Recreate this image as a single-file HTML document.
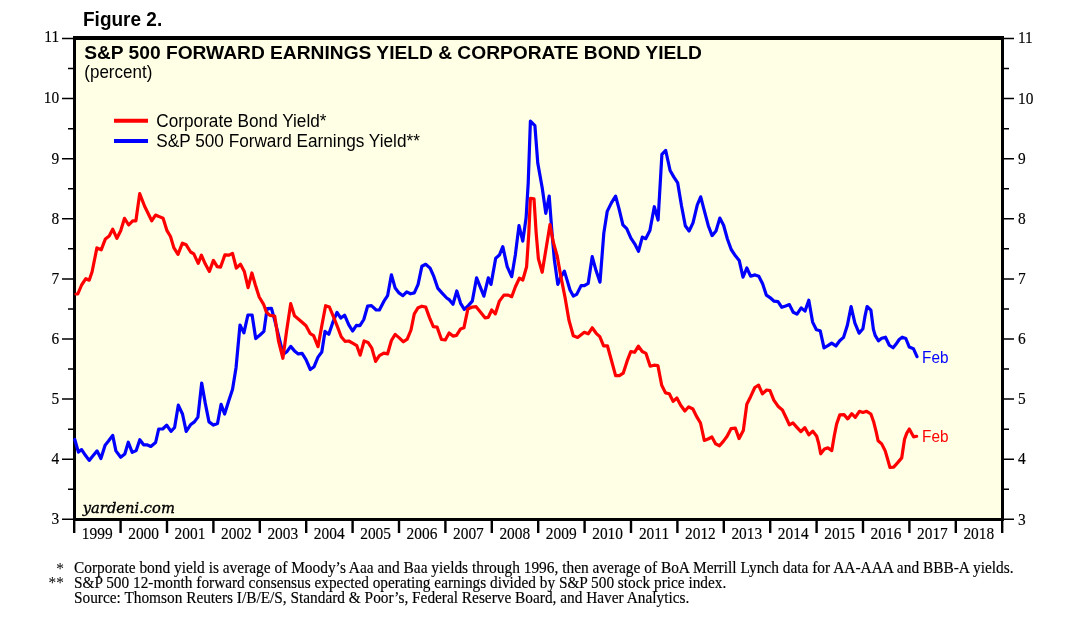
<!DOCTYPE html>
<html><head><meta charset="utf-8"><title>Figure 2</title><style>html,body{margin:0;padding:0;background:#fff;width:1079px;height:630px;overflow:hidden}svg{display:block}</style></head><body>
<svg width="1079" height="630" viewBox="0 0 1079 630">
<rect x="0" y="0" width="1079" height="630" fill="#ffffff"/>
<rect x="73" y="36" width="931" height="485" fill="#ffffe6"/>
<path d="M62 519.30H73M1004 519.30H1014M68 489.25H73M1004 489.25H1009M62 459.20H73M1004 459.20H1014M68 429.15H73M1004 429.15H1009M62 399.10H73M1004 399.10H1014M68 369.05H73M1004 369.05H1009M62 339.00H73M1004 339.00H1014M68 308.95H73M1004 308.95H1009M62 278.90H73M1004 278.90H1014M68 248.85H73M1004 248.85H1009M62 218.80H73M1004 218.80H1014M68 188.75H73M1004 188.75H1009M62 158.70H73M1004 158.70H1014M68 128.65H73M1004 128.65H1009M62 98.60H73M1004 98.60H1014M68 68.55H73M1004 68.55H1009M62 38.50H73M1004 38.50H1014" stroke="#000" stroke-width="1.5" fill="none"/>
<path d="M74.20 520V533M120.60 520V533M167.00 520V533M213.40 520V533M259.80 520V533M306.20 520V533M352.60 520V533M399.00 520V533M445.40 520V533M491.80 520V533M538.20 520V533M584.60 520V533M631.00 520V533M677.40 520V533M723.80 520V533M770.20 520V533M816.60 520V533M863.00 520V533M909.40 520V533M955.80 520V533M1002.20 520V533" stroke="#000" stroke-width="2.4" fill="none"/>
<path d="M73 36H1004V521.1H73Z M76 40V517.9H1001V40Z" fill="#000" fill-rule="evenodd"/>
<g font-family="'Liberation Serif', 'Times New Roman', serif" fill="#000" stroke="#000" stroke-width="0.15"><text transform="translate(59.20 524.10) scale(1.0 1.06)" font-size="15.4" text-anchor="end">3</text><text transform="translate(1018.00 524.50) scale(1.0 1.06)" font-size="15.4">3</text><text transform="translate(59.20 464.00) scale(1.0 1.06)" font-size="15.4" text-anchor="end">4</text><text transform="translate(1018.00 464.40) scale(1.0 1.06)" font-size="15.4">4</text><text transform="translate(59.20 403.90) scale(1.0 1.06)" font-size="15.4" text-anchor="end">5</text><text transform="translate(1018.00 404.30) scale(1.0 1.06)" font-size="15.4">5</text><text transform="translate(59.20 343.80) scale(1.0 1.06)" font-size="15.4" text-anchor="end">6</text><text transform="translate(1018.00 344.20) scale(1.0 1.06)" font-size="15.4">6</text><text transform="translate(59.20 283.70) scale(1.0 1.06)" font-size="15.4" text-anchor="end">7</text><text transform="translate(1018.00 284.10) scale(1.0 1.06)" font-size="15.4">7</text><text transform="translate(59.20 223.60) scale(1.0 1.06)" font-size="15.4" text-anchor="end">8</text><text transform="translate(1018.00 224.00) scale(1.0 1.06)" font-size="15.4">8</text><text transform="translate(59.20 163.50) scale(1.0 1.06)" font-size="15.4" text-anchor="end">9</text><text transform="translate(1018.00 163.90) scale(1.0 1.06)" font-size="15.4">9</text><text transform="translate(59.20 103.40) scale(1.0 1.06)" font-size="15.4" text-anchor="end">10</text><text transform="translate(1018.00 103.80) scale(1.0 1.06)" font-size="15.4">10</text><text transform="translate(59.20 42.20) scale(1.0 1.06)" font-size="15.4" text-anchor="end">11</text><text transform="translate(1018.00 42.60) scale(1.0 1.06)" font-size="15.4">11</text><text transform="translate(97.20 539.30) scale(1.0 1.06)" font-size="15.4" text-anchor="middle">1999</text><text transform="translate(143.60 539.30) scale(1.0 1.06)" font-size="15.4" text-anchor="middle">2000</text><text transform="translate(190.00 539.30) scale(1.0 1.06)" font-size="15.4" text-anchor="middle">2001</text><text transform="translate(236.40 539.30) scale(1.0 1.06)" font-size="15.4" text-anchor="middle">2002</text><text transform="translate(282.80 539.30) scale(1.0 1.06)" font-size="15.4" text-anchor="middle">2003</text><text transform="translate(329.20 539.30) scale(1.0 1.06)" font-size="15.4" text-anchor="middle">2004</text><text transform="translate(375.60 539.30) scale(1.0 1.06)" font-size="15.4" text-anchor="middle">2005</text><text transform="translate(422.00 539.30) scale(1.0 1.06)" font-size="15.4" text-anchor="middle">2006</text><text transform="translate(468.40 539.30) scale(1.0 1.06)" font-size="15.4" text-anchor="middle">2007</text><text transform="translate(514.80 539.30) scale(1.0 1.06)" font-size="15.4" text-anchor="middle">2008</text><text transform="translate(561.20 539.30) scale(1.0 1.06)" font-size="15.4" text-anchor="middle">2009</text><text transform="translate(607.60 539.30) scale(1.0 1.06)" font-size="15.4" text-anchor="middle">2010</text><text transform="translate(654.00 539.30) scale(1.0 1.06)" font-size="15.4" text-anchor="middle">2011</text><text transform="translate(700.40 539.30) scale(1.0 1.06)" font-size="15.4" text-anchor="middle">2012</text><text transform="translate(746.80 539.30) scale(1.0 1.06)" font-size="15.4" text-anchor="middle">2013</text><text transform="translate(793.20 539.30) scale(1.0 1.06)" font-size="15.4" text-anchor="middle">2014</text><text transform="translate(839.60 539.30) scale(1.0 1.06)" font-size="15.4" text-anchor="middle">2015</text><text transform="translate(886.00 539.30) scale(1.0 1.06)" font-size="15.4" text-anchor="middle">2016</text><text transform="translate(932.40 539.30) scale(1.0 1.06)" font-size="15.4" text-anchor="middle">2017</text><text transform="translate(978.80 539.30) scale(1.0 1.06)" font-size="15.4" text-anchor="middle">2018</text></g>
<text transform="translate(83.00 25.95) scale(1.0 1.075)" font-family="'Liberation Sans', Arial, sans-serif" font-size="19" font-weight="bold">Figure 2.</text>
<text x="84.20" y="58.60" font-family="'Liberation Sans', Arial, sans-serif" font-size="19.2" font-weight="bold">S&amp;P 500 FORWARD EARNINGS YIELD &amp; CORPORATE BOND YIELD</text>
<text transform="translate(84.30 77.60) scale(1.0 1.1)" font-family="'Liberation Sans', Arial, sans-serif" font-size="17.0">(percent)</text>
<path d="M114 120.8H148" stroke="#ff0000" stroke-width="4"/>
<path d="M114 140.9H148" stroke="#0000ff" stroke-width="4"/>
<text transform="translate(156.30 127.10) scale(1.0 1.1)" font-family="'Liberation Sans', Arial, sans-serif" font-size="17.2">Corporate Bond Yield*</text>
<text transform="translate(156.30 147.00) scale(1.0 1.1)" font-family="'Liberation Sans', Arial, sans-serif" font-size="17.2">S&amp;P 500 Forward Earnings Yield**</text>
<text transform="translate(82.8 512.8) scale(1.015 1)" font-family="'DejaVu Serif', serif" font-style="italic" font-size="14.5" stroke="#000" stroke-width="0.35">yardeni.com</text>
<polyline points="74.8,439.5 78.4,452.1 81.6,449.6 85.4,455.3 89.2,460.4 93.0,455.7 97.1,450.9 100.9,458.5 105.1,445.2 108.3,441.3 112.7,435.4 115.9,450.9 120.7,457.2 124.8,454.0 128.3,442.2 132.2,452.4 136.2,450.6 139.8,439.7 143.6,444.8 147.0,444.8 150.8,446.5 155.6,442.5 158.7,429.0 162.7,429.0 166.7,425.1 171.0,431.4 174.6,427.5 178.3,405.2 182.5,414.0 186.2,431.4 190.5,424.8 194.4,421.9 197.9,417.1 201.7,383 205.2,402.9 209.0,421.9 213.5,425.1 217.5,423.5 221.1,404.4 224.6,414.0 228.6,401.3 232.5,389.4 236,368 240.0,325.0 243.9,332.9 247.9,315.0 252.1,315.0 255.7,338.6 260.0,335.0 263.9,331.4 267.1,308.6 271.4,308.3 274.3,318.6 277.9,332.9 281.4,347.1 284.3,353.6 287.1,351.4 290.7,346.4 294.5,350.9 298.3,353.9 302.1,353.3 306.0,359.6 310.3,369.5 314.1,366.7 318.0,357.1 321.8,352.0 325.0,331.4 328.8,334.3 332.6,322.9 337.0,312.4 340.8,318.1 344.6,315.2 348.8,324.8 352.6,331.0 356.4,325.3 359.9,325.7 363.8,319.5 367.6,306.2 371.4,305.6 376.2,310.0 379.4,310.0 383.8,301.4 387.6,295.7 391.4,274.8 395.2,288.1 399.0,292.9 402.9,295.7 406.7,291.9 410.5,293.8 414.3,292.9 418.1,284.3 421.9,266.2 425.7,264.3 430.1,268.1 433.9,276.7 437.7,288.1 441.9,292.9 446.7,298.0 449.5,299.9 453.0,304.3 456.8,291.0 460.6,303.3 464.3,309.3 468.3,305.6 472.3,301.1 476.6,277.8 480.6,287.8 483.9,296.2 488.3,277.8 491.0,284.4 495.7,258.2 499.4,255.1 502.8,246.7 507.2,266.7 511.7,276.7 515.4,254.4 519.0,225.6 522.8,241.1 526.1,217.8 528.2,183.3 530.4,121.1 534.9,125.6 537.8,163.3 542.2,187.8 545.8,213.3 549.2,196 552.2,235.5 554.4,260.0 557.8,284.4 561.1,276.7 564.4,271.1 566.7,278.9 570.0,290.0 573.3,296.0 576.7,294.4 581.1,285.6 584.4,285.6 588.2,283.3 592.2,256.7 596.2,271.1 600.0,282.2 603.8,233.3 607.2,211.4 611.4,202.9 615.6,196.2 619.0,208.6 622.9,224.8 626.7,228.6 630.9,238.1 634.7,243.8 638.5,251.4 642.3,237.1 645.7,238.7 649.9,230.5 654.3,206.7 658.1,220.0 661.9,154.3 665.7,150.5 670.1,170.5 673.9,177.1 677.7,182.9 681.5,205.7 685.3,225.7 689.1,231.0 693.0,222.9 697.3,204.8 700.7,196.8 704.5,211.4 708.3,225.7 712.1,235.6 716.0,231.0 719.8,218.1 723.6,225.3 727.4,239.0 731.2,249.5 735.4,255.8 739.2,260.4 743.0,277.1 746.8,268.0 750.6,276.2 755.0,274.9 758.8,276.2 762.6,283.8 766.4,295.2 770.3,297.8 774.1,301.2 778.0,301.6 781.8,307.3 785.6,306.0 789.4,304.6 793.2,312.2 797.0,314.1 801.2,307.9 805.0,311.1 808.8,300.2 812.6,322.1 816.4,329.8 820.2,330.7 824.0,347.9 827.9,345.6 831.7,343.1 835.9,346.0 839.7,340.8 843.5,337.4 847.3,325.6 851.1,306.5 854.9,323.1 859.1,333.2 862.9,328.7 864.9,316.7 867.1,306.5 870.9,310.1 873.4,329.4 875.3,335.7 878.5,340.8 881.7,338.3 885.5,337.2 889.3,345.2 893.1,347.8 895.9,344.3 899.2,339.5 902.2,337.2 905.8,338.5 909.3,347.1 913.4,348.7 917.0,356.7" fill="none" stroke="#0000ff" stroke-width="3.2" stroke-linejoin="round" stroke-linecap="round"/>
<polyline points="76,294 77.8,294.0 81.6,285.0 85.8,278.7 89.2,280.2 92.1,271.7 96.9,247.9 101.2,249.8 105.4,238.9 109.2,236.0 112.7,229.2 116.9,238.3 120.7,230.7 124.5,218.3 128.7,225.0 132.7,220.8 135.9,220.8 139.7,193.6 144.5,206.0 151.7,220.8 155.5,215.1 158.8,216.4 163.1,218.3 167.0,230.7 170.5,236.5 173.8,247.6 178.0,254.3 182.4,243.2 186.2,244.8 190.6,252.0 193.8,253.9 198.2,263.4 201.4,255.2 205.2,263.8 209.4,271.4 213.4,260.4 217.2,266.7 220.5,267.2 224.9,254.9 229.0,255.2 232.5,253.3 236.3,268.0 240.5,264.2 244.3,271.4 248.1,287.6 251.9,273.0 255.3,284.8 259.2,297 263.6,304.3 266.4,312.1 270.0,315.4 274.7,316.0 278.6,341.4 282.9,358.3 286.6,331 290.7,303.7 294.5,315.8 298.3,319.0 302.1,322.3 306.0,325.7 310.3,333.7 313.6,335.6 318.0,346.7 321.8,325.7 325.6,305.7 329.4,307.0 333.2,316.2 337.4,326.7 341.2,336.8 345.0,341.3 348.8,341.0 352.6,343.2 356.8,345.7 360.2,355.2 364.1,341.0 368.0,342.4 371.8,348.1 375.6,361.4 379.4,355.7 383.8,353.2 387.6,353.8 391.4,340.5 395.2,334.4 399.0,337.6 403.4,341.8 407.2,339.1 411.0,330.0 414.3,313.8 418.1,307.7 421.9,306.2 425.7,307.1 429.5,317.6 433.3,326.6 437.1,327.1 441.5,339.5 445.3,339.9 449.1,332.9 453.0,336.1 456.5,335.4 460.6,328.9 463.9,327.8 467.9,308.9 472.3,307.1 476.1,306.7 480.6,312.2 485.0,317.8 488.3,317.3 491.7,310.0 495.4,313.8 499.4,301.1 503.9,295.1 508.3,295.1 511.7,296.7 515.4,286.7 519.4,278.2 522.8,280.0 526.6,266.7 528.8,233.3 530.4,198.4 534.0,198.9 536.2,233.3 538.4,258.9 542.2,272.2 546.0,248.9 550.0,224.6 553.3,242.2 557.1,255.6 560.7,275.6 565.1,297.8 568.9,320.0 573.3,335.8 577.6,337.4 584.3,332.3 588.2,333.8 592.2,327.8 596.2,333.3 599.8,336.7 603.6,345.8 607.4,345.8 611.2,359.5 615.6,375.7 619.4,375.7 623.2,373.2 627.0,361.4 630.8,351.5 634.6,352.3 638.4,346.2 642.2,351.5 646.0,353.4 650.2,366.2 654.0,365.2 657.9,365.6 661.7,385.2 665.5,392.9 669.3,393.8 673.1,401.4 676.9,398.0 680.7,405.2 684.9,411.0 688.7,406.8 692.9,409.0 696.7,416.7 700.5,423.0 704.3,440.5 708.1,439.0 711.9,437.0 715.7,443.9 719.5,445.8 723.3,441.4 727.1,436.3 731.0,428.7 735.3,428.1 739.1,438.6 743.3,430.6 746.8,404.3 750.6,396.7 754.8,387.5 758.6,385.2 762.4,393.8 766.6,390.0 770.0,390.6 773.8,400.1 778.0,406.2 782.4,410.0 786.5,418.5 789.4,424.8 792.9,422.9 796.9,427.3 800.9,431.6 804.8,427.6 808.8,434.8 812.8,431.1 816.7,436.3 818.7,443.5 820.7,453.8 824.4,449.0 827.9,447.9 831.8,450.6 834.2,436.3 836.6,424.1 839.8,414.9 844.0,414.6 847.7,418.9 851.7,413.7 855.3,417.3 859.4,411.3 862.9,412.5 866.7,411.3 870.9,414.0 873.8,422.3 876.0,431.2 878.1,440.7 881.7,443.9 885.2,450.9 887.8,459.8 889.9,467.4 893.7,467.1 897.5,462.9 901.7,457.9 904.5,439.4 906.8,433.1 909.3,429.0 911.9,433.7 913.7,436.9 916.6,436.3" fill="none" stroke="#ff0000" stroke-width="3.2" stroke-linejoin="round" stroke-linecap="round"/>
<text transform="translate(922.00 363.00) scale(0.96 1.04)" font-family="'Liberation Sans', Arial, sans-serif" font-size="16" fill="#0000ff">Feb</text>
<text transform="translate(922.00 442.20) scale(0.96 1.04)" font-family="'Liberation Sans', Arial, sans-serif" font-size="16" fill="#ff0000">Feb</text>
<g font-family="'Liberation Serif', 'Times New Roman', serif" fill="#000" stroke="#000" stroke-width="0.15"><text transform="translate(74.00 572.80) scale(1.0 1.04)" font-size="15.4">Corporate bond yield is average of Moody’s Aaa and Baa yields through 1996, then average of BoA Merrill Lynch data for AA-AAA and BBB-A yields.</text><text transform="translate(74.00 587.60) scale(0.995 1.04)" font-size="15.4">S&amp;P 500 12-month forward consensus expected operating earnings divided by S&amp;P 500 stock price index.</text><text transform="translate(74.00 602.50) scale(0.9966 1.04)" font-size="15.4">Source: Thomson Reuters I/B/E/S, Standard &amp; Poor’s, Federal Reserve Board, and Haver Analytics.</text></g>
<g font-family="'Liberation Serif', 'Times New Roman', serif" fill="#000"><text transform="translate(64.00 573.50) scale(1.0 1.04)" font-size="15.4" text-anchor="end">*</text><text transform="translate(64.00 588.30) scale(1.0 1.04)" font-size="15.4" text-anchor="end">**</text></g>
</svg>
</body></html>
